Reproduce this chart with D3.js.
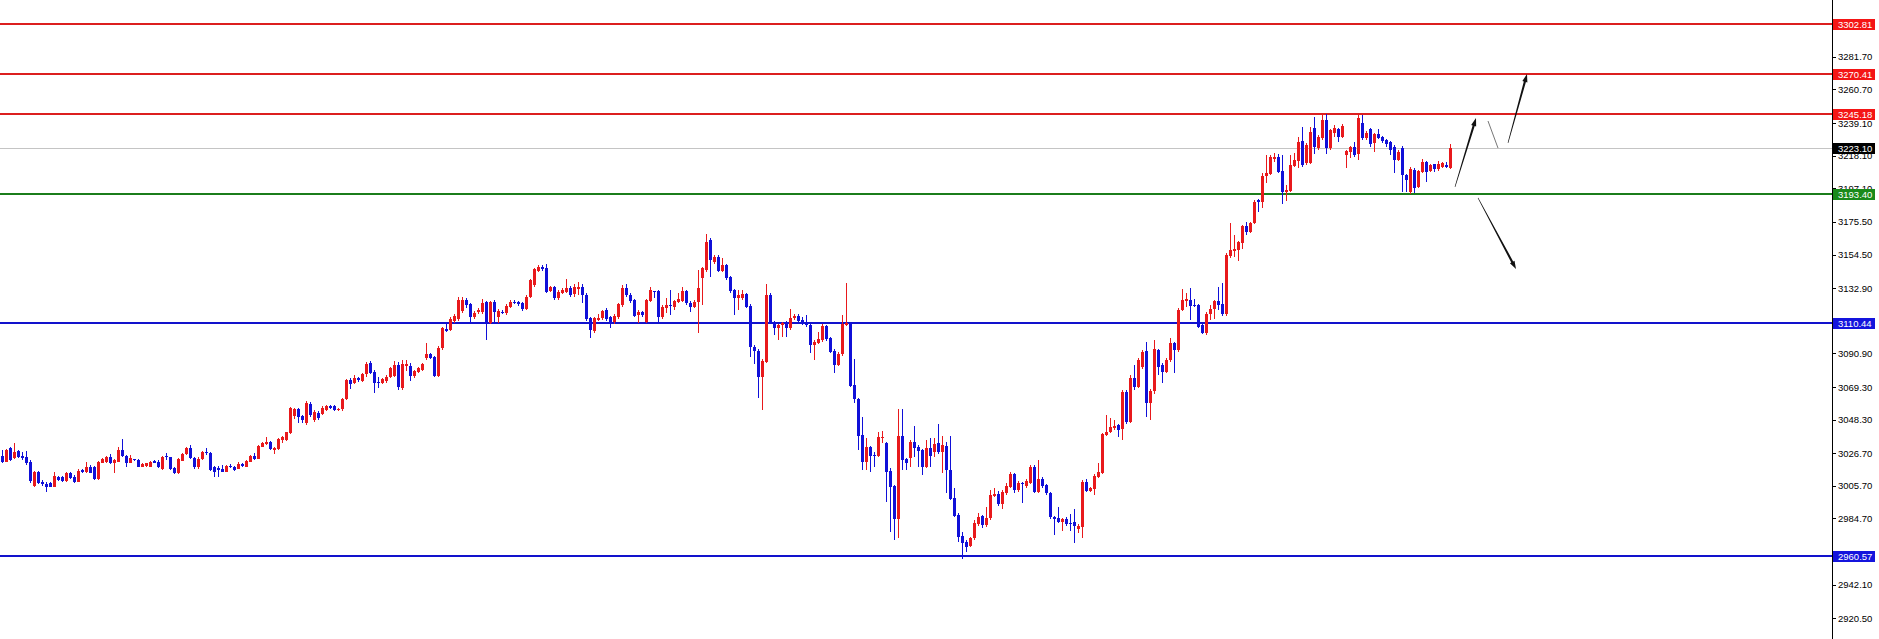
<!DOCTYPE html>
<html><head><meta charset="utf-8">
<script src="https://cdn.jsdelivr.net/npm/d3@7"></script>
<style>html,body{margin:0;padding:0;background:#fff;overflow:hidden}</style>
</head><body><svg id="c" width="1879" height="639"></svg>
<script>
const opens = [
3024.9,3021.3,3029.8,3023.4,3028.1,3024.9,3024.5,3021.3,3005.6,3014.8,
3008.4,3006.7,3007.3,3005.2,3011.6,3011.6,3008.8,3013.8,3011.6,3008.4,
3015.9,3014.6,3018.1,3017.6,3010.1,3020.6,3020.8,3024.0,3020.2,3021.3,
3028.8,3024.9,3020.6,3022.8,3022.3,3018.1,3018.5,3018.1,3021.5,3021.1,
3016.3,3024.9,3024.0,3017.2,3014.2,3021.9,3026.2,3029.8,3023.4,3017.6,
3023.0,3027.5,3027.1,3017.6,3017.0,3016.3,3014.8,3018.5,3017.6,3016.8,
3019.8,3018.1,3021.3,3024.9,3023.2,3030.9,3032.6,3034.1,3028.8,3029.4,
3035.2,3035.2,3039.5,3050.6,3054.9,3050.8,3046.0,3058.3,3048.1,3052.8,
3052.0,3054.5,3057.1,3057.1,3054.5,3054.9,3061.4,3073.8,3072.1,3074.9,
3073.4,3077.4,3084.5,3079.1,3072.7,3072.1,3073.1,3075.9,3076.4,3083.4,
3068.9,3082.8,3083.0,3076.4,3079.1,3080.2,3087.7,3090.3,3088.4,3076.4,
3094.2,3106.6,3105.9,3111.7,3112.8,3118.4,3125.2,3122.5,3114.1,3117.3,
3117.3,3123.7,3110.7,3123.7,3114.5,3117.7,3116.7,3121.0,3124.2,3123.7,
3123.1,3119.7,3127.4,3134.9,3144.1,3146.3,3145.6,3131.2,3133.8,3126.3,
3130.0,3130.6,3132.7,3128.9,3132.1,3133.8,3128.5,3113.4,3105.5,3112.4,
3113.5,3118.8,3114.1,3111.3,3114.1,3122.1,3132.8,3128.5,3125.3,3115.6,
3117.8,3111.3,3124.8,3131.0,3131.0,3114.1,3119.9,3122.0,3121.0,3124.2,
3124.8,3131.3,3123.5,3121.0,3123.8,3139.2,3144.6,3163.9,3149.9,3153.2,
3144.1,3147.8,3140.3,3131.7,3126.3,3126.3,3129.1,3121.6,3095.2,3092.7,
3075.9,3085.6,3128.5,3110.7,3107.0,3109.0,3110.7,3107.0,3113.5,3115.0,
3112.4,3110.3,3109.2,3096.3,3097.8,3099.5,3108.5,3100.6,3092.7,3083.5,
3090.5,3109.2,3110.3,3070.6,3061.6,3038.4,3021.3,3030.9,3025.6,3024.9,
3036.3,3033.1,3015.3,3005.8,2984.2,3037.8,3022.8,3023.4,3034.1,3030.9,
3028.8,3018.1,3030.3,3027.7,3033.1,3027.7,3031.6,3015.9,2997.7,2987.0,
2973.5,2969.8,2967.0,2972.0,2981.2,2986.3,2980.5,2984.8,2999.2,3000.5,
2994.1,3000.9,3005.2,3013.3,3003.1,3007.3,3005.6,3007.8,3017.6,3002.0,
3009.9,3006.3,3001.3,2985.9,2984.8,2982.7,2984.2,2982.0,2982.7,2977.8,
2979.5,3008.4,3002.6,3003.5,3011.6,3014.2,3038.4,3040.6,3042.7,3044.9,
3042.1,3066.3,3047.0,3074.9,3069.5,3082.4,3092.5,3058.8,3066.4,3093.1,
3083.5,3079.2,3086.7,3097.4,3093.1,3118.9,3124.9,3125.3,3122.1,3122.1,
3109.2,3103.9,3116.3,3119.3,3124.6,3122.7,3116.3,3153.6,3157.0,3157.4,
3162.2,3172.9,3169.2,3175.0,3189.6,3188.5,3205.0,3206.3,3215.7,3217.5,
3208.4,3194.9,3195.6,3211.5,3214.9,3227.7,3213.2,3213.2,3236.0,3222.8,
3229.3,3241.1,3222.8,3232.5,3235.3,3230.3,3218.5,3220.7,3223.9,3219.0,
3238.9,3229.3,3235.3,3226.0,3231.8,3230.3,3228.2,3226.7,3223.9,3215.3,
3223.2,3205.7,3194.5,3208.9,3198.2,3207.8,3213.8,3208.2,3212.5,3209.5,
3211.0,3212.1,3210.0];
const highs = [
3028.8,3029.4,3030.9,3033.1,3028.8,3027.7,3028.1,3022.3,3015.5,3015.5,
3009.5,3008.4,3008.0,3014.8,3012.1,3012.3,3014.8,3014.6,3012.7,3016.3,
3016.3,3021.1,3018.9,3018.5,3021.9,3023.4,3024.9,3026.2,3022.8,3030.9,
3035.6,3025.6,3025.3,3023.2,3023.0,3020.2,3020.6,3021.5,3022.3,3022.3,
3024.9,3027.1,3024.5,3017.6,3023.4,3026.6,3030.9,3032.0,3024.0,3024.5,
3028.3,3029.8,3027.7,3018.5,3018.5,3019.1,3018.9,3019.8,3018.5,3021.3,
3020.6,3022.3,3025.6,3026.6,3032.0,3034.1,3036.9,3034.6,3030.9,3036.5,
3037.8,3040.6,3056.2,3055.6,3055.6,3051.5,3060.5,3059.5,3054.5,3054.0,
3057.0,3058.0,3058.0,3057.8,3056.0,3062.5,3074.5,3074.8,3077.0,3076.0,
3078.5,3085.5,3086.0,3080.0,3075.9,3075.0,3077.0,3082.0,3086.0,3085.5,
3086.5,3086.6,3084.5,3080.5,3082.0,3085.0,3097.4,3091.0,3089.0,3095.5,
3108.0,3111.3,3114.0,3116.0,3127.5,3127.0,3126.5,3123.5,3118.5,3120.0,
3126.0,3124.5,3124.5,3125.0,3119.5,3119.0,3123.0,3125.0,3125.0,3124.5,
3124.0,3128.5,3139.0,3146.0,3147.5,3147.5,3148.4,3134.5,3134.5,3131.5,
3133.0,3138.5,3134.0,3135.6,3137.0,3135.5,3129.5,3114.5,3114.5,3116.0,
3119.0,3120.0,3115.0,3116.0,3123.5,3134.9,3135.5,3129.5,3126.0,3118.8,
3118.5,3126.0,3133.4,3131.3,3131.5,3122.0,3126.3,3131.7,3125.5,3129.6,
3133.8,3132.0,3124.5,3125.0,3144.6,3146.5,3167.7,3165.0,3154.5,3154.0,
3152.0,3148.5,3141.0,3132.5,3131.7,3131.7,3130.0,3122.5,3096.0,3093.5,
3087.0,3135.6,3129.5,3111.5,3110.0,3111.0,3111.5,3119.5,3116.3,3116.0,
3114.6,3115.6,3110.0,3099.5,3104.9,3109.5,3109.2,3101.5,3093.5,3091.5,
3115.6,3136.4,3111.0,3087.1,3062.0,3050.2,3036.3,3031.5,3027.7,3040.6,
3041.0,3034.0,3017.0,3006.5,3055.0,3055.0,3023.5,3035.2,3044.2,3032.0,
3029.5,3035.2,3036.3,3036.3,3045.5,3037.8,3034.1,3037.8,3004.1,2988.0,
2976.3,2971.0,2973.0,2983.8,2988.0,2987.0,2991.9,3003.1,3004.1,3002.6,
3003.0,3007.8,3014.8,3014.0,3009.1,3008.0,3009.9,3019.1,3019.1,3022.3,
3011.6,3007.0,3002.0,2986.5,2992.3,2985.0,2985.9,2987.6,2990.6,2981.0,
3009.5,3009.9,3005.0,3013.0,3020.2,3040.0,3051.3,3049.2,3048.1,3045.5,
3067.5,3067.4,3077.0,3083.5,3087.8,3093.0,3098.5,3068.0,3099.6,3094.0,
3084.5,3088.0,3100.6,3098.5,3120.0,3132.1,3129.6,3132.8,3125.7,3123.0,
3110.0,3117.5,3122.1,3125.5,3133.9,3136.0,3155.5,3175.0,3167.1,3163.5,
3173.5,3175.7,3175.5,3189.5,3190.5,3207.0,3218.5,3218.5,3219.6,3219.2,
3218.5,3199.2,3218.5,3219.6,3229.9,3236.7,3226.0,3236.7,3243.0,3231.5,
3244.7,3244.7,3235.5,3237.8,3236.0,3238.2,3222.0,3224.3,3226.7,3244.3,
3244.3,3234.0,3236.0,3232.5,3235.3,3231.0,3229.0,3227.5,3225.0,3221.5,
3224.3,3206.5,3210.5,3210.0,3209.0,3216.0,3214.5,3213.0,3213.0,3214.7,
3214.2,3214.2,3225.5];
const lows = [
3020.6,3020.8,3021.7,3023.0,3023.6,3022.3,3019.1,3007.8,3004.8,3006.9,
3005.6,3002.0,3004.8,3004.8,3008.8,3008.4,3008.4,3009.9,3007.3,3008.0,
3014.2,3013.8,3013.8,3009.7,3009.7,3020.2,3020.2,3019.8,3013.8,3020.8,
3024.5,3017.6,3020.2,3021.7,3017.6,3017.6,3018.1,3017.6,3020.2,3017.2,
3015.9,3022.3,3015.9,3013.3,3013.1,3021.5,3025.8,3023.0,3016.8,3016.8,
3022.3,3025.6,3015.5,3011.2,3011.6,3014.4,3014.4,3017.0,3015.3,3016.3,
3018.1,3017.6,3020.8,3022.3,3022.8,3030.5,3032.2,3028.8,3026.2,3029.0,
3033.1,3034.8,3039.1,3048.5,3046.4,3046.0,3045.0,3050.0,3047.0,3048.0,
3051.0,3054.0,3055.0,3053.8,3053.8,3054.0,3060.8,3068.0,3071.0,3072.5,
3072.5,3076.0,3077.5,3065.6,3068.4,3071.0,3072.0,3075.0,3075.5,3067.5,
3067.5,3079.8,3073.0,3075.0,3078.0,3079.5,3086.8,3087.0,3075.5,3075.5,
3093.0,3104.9,3105.0,3110.5,3111.5,3117.0,3120.0,3110.5,3113.0,3116.5,
3116.5,3099.5,3109.5,3110.0,3110.5,3116.0,3115.5,3120.0,3122.5,3121.5,
3118.0,3119.0,3126.5,3133.5,3143.0,3144.0,3129.5,3130.5,3125.0,3125.5,
3129.0,3129.5,3127.5,3127.0,3128.5,3123.1,3111.5,3100.6,3104.0,3111.5,
3112.5,3111.5,3107.0,3110.0,3113.0,3121.0,3127.5,3123.5,3114.0,3110.3,
3114.5,3110.3,3124.0,3126.3,3110.3,3113.0,3116.7,3115.6,3118.8,3123.5,
3124.0,3122.0,3117.8,3120.0,3104.3,3122.0,3143.5,3140.3,3148.5,3143.0,
3143.0,3138.0,3130.0,3115.6,3118.8,3125.5,3120.0,3088.8,3084.1,3062.0,
3054.5,3084.5,3109.5,3102.7,3099.5,3101.7,3101.3,3106.0,3112.5,3111.0,
3109.0,3108.1,3091.0,3086.7,3097.0,3098.5,3099.0,3091.0,3078.1,3082.5,
3089.5,3108.5,3069.0,3059.0,3028.8,3015.9,3015.9,3014.8,3018.1,3024.0,
3033.1,2995.5,2976.3,2970.9,2972.0,3015.9,3015.9,3018.1,3024.5,3018.1,
3012.7,3017.0,3018.1,3024.5,3026.5,3014.2,3000.9,2996.6,2985.9,2969.8,
2958.5,2963.4,2966.6,2971.0,2980.0,2978.4,2979.5,2984.0,2998.5,2993.0,
2990.6,3000.0,3004.0,3001.3,3002.0,2994.5,3004.5,3007.0,3001.0,3001.0,
3004.5,3000.0,2984.2,2974.1,2981.5,2976.9,2980.0,2976.9,2969.2,2975.2,
2972.0,3001.5,3001.5,3000.0,3011.0,3013.0,3037.5,3039.5,3041.5,3037.4,
3035.2,3045.5,3046.0,3067.4,3068.5,3081.0,3050.2,3048.1,3065.0,3077.0,
3071.7,3078.0,3085.5,3078.1,3092.0,3118.0,3121.0,3112.4,3120.5,3107.0,
3103.4,3102.5,3112.4,3112.8,3118.9,3115.0,3115.0,3152.5,3153.2,3150.6,
3157.9,3167.1,3168.2,3174.0,3182.1,3184.2,3200.3,3205.5,3214.2,3207.0,
3187.0,3189.1,3194.5,3211.0,3210.0,3211.0,3212.1,3212.7,3219.0,3221.5,
3228.2,3219.0,3222.0,3230.3,3226.7,3229.5,3210.0,3216.4,3217.5,3215.3,
3228.0,3228.0,3224.0,3220.7,3228.6,3226.5,3224.0,3218.5,3206.7,3214.5,
3195.0,3194.5,3193.5,3194.0,3197.5,3207.0,3201.4,3207.5,3207.8,3208.5,
3210.0,3210.0,3209.5];
const closes = [
3021.1,3028.8,3022.3,3027.7,3024.0,3023.4,3020.6,3009.1,3014.8,3007.8,
3006.9,3005.2,3005.2,3012.1,3009.5,3009.1,3014.2,3010.6,3008.4,3015.5,
3014.8,3018.1,3014.2,3010.1,3021.3,3023.0,3024.0,3020.2,3022.3,3028.8,
3024.9,3020.6,3023.4,3022.1,3018.1,3019.8,3020.2,3021.1,3020.6,3017.6,
3024.5,3024.0,3016.8,3013.8,3023.0,3026.2,3030.3,3023.4,3017.6,3023.0,
3027.7,3026.6,3015.9,3014.8,3015.9,3014.8,3018.5,3017.6,3015.9,3019.8,
3018.5,3021.7,3024.9,3022.8,3031.6,3033.5,3034.1,3029.4,3030.3,3035.9,
3036.9,3040.1,3055.6,3054.9,3050.2,3048.1,3059.2,3051.3,3053.4,3049.1,
3056.0,3057.1,3055.6,3054.5,3055.1,3061.6,3073.8,3071.2,3075.3,3073.8,
3077.6,3084.1,3078.5,3072.1,3072.1,3074.2,3075.9,3081.3,3083.4,3069.1,
3084.1,3084.1,3076.4,3079.8,3081.3,3083.9,3090.3,3087.7,3076.4,3094.6,
3107.0,3105.5,3112.8,3115.2,3125.2,3125.2,3122.0,3114.1,3117.1,3118.8,
3123.1,3110.7,3123.7,3117.5,3118.4,3117.1,3121.4,3124.2,3123.1,3122.7,
3119.2,3127.4,3138.1,3145.0,3146.3,3145.0,3130.6,3133.4,3126.3,3130.6,
3131.7,3132.7,3128.5,3133.4,3133.8,3128.5,3112.8,3105.9,3113.4,3113.4,
3118.2,3112.8,3110.7,3115.0,3122.5,3132.8,3128.5,3124.8,3115.0,3117.8,
3115.6,3125.3,3131.7,3130.4,3114.1,3121.0,3122.0,3121.6,3124.8,3125.7,
3131.3,3123.1,3121.0,3124.2,3132.8,3145.6,3162.8,3151.0,3153.2,3144.1,
3147.8,3139.2,3131.3,3126.3,3128.5,3129.1,3121.0,3094.8,3092.7,3075.9,
3086.0,3128.5,3110.7,3107.0,3109.2,3110.3,3107.0,3113.5,3115.0,3112.0,
3110.3,3109.2,3096.3,3098.5,3100.0,3108.5,3100.0,3092.0,3083.5,3090.5,
3109.8,3110.3,3069.9,3061.4,3037.8,3021.3,3030.9,3024.9,3024.9,3036.9,
3037.4,3014.8,3005.2,2984.2,3037.8,3022.4,3020.6,3034.1,3029.9,3028.4,
3018.1,3029.9,3024.9,3032.6,3027.7,3032.0,3015.9,2997.1,2986.3,2973.0,
2969.2,2966.6,2972.0,2981.6,2985.9,2980.5,2984.8,2999.8,3000.5,2994.1,
3002.0,3005.6,3013.3,3003.1,3007.8,3006.9,3009.1,3017.6,3002.0,3009.9,
3005.6,3000.9,2985.5,2984.2,2982.7,2984.2,2981.2,2981.2,2979.9,2979.9,
3008.4,3002.6,3004.1,3012.1,3014.8,3039.1,3040.6,3043.4,3044.2,3041.6,
3066.3,3047.0,3074.9,3069.5,3086.7,3092.0,3058.8,3067.0,3093.6,3082.4,
3079.2,3086.7,3097.4,3093.1,3118.9,3125.3,3125.7,3121.4,3121.4,3108.1,
3104.3,3116.3,3119.3,3124.6,3122.1,3116.3,3154.2,3157.4,3157.9,3162.8,
3172.9,3169.2,3175.0,3188.5,3188.5,3205.0,3206.7,3217.0,3217.0,3207.8,
3194.9,3196.0,3212.1,3215.3,3227.1,3212.1,3225.0,3233.5,3224.0,3230.3,
3241.1,3222.8,3234.6,3235.7,3230.3,3237.4,3221.1,3223.9,3218.5,3242.1,
3229.3,3232.5,3225.4,3231.8,3229.3,3227.5,3225.4,3221.8,3215.3,3220.7,
3205.7,3202.5,3209.5,3197.1,3208.2,3214.2,3207.8,3212.1,3209.5,3212.5,
3213.2,3211.0,3223.1];

const tickValues = [3281.70,3260.70,3239.10,3218.10,3197.10,3175.50,3154.50,3132.90,
  3090.90,3069.30,3048.30,3026.70,3005.70,2984.70,2942.10,2920.50];
const levelValues = [3302.81,3270.41,3245.18,3223.10,3193.40,3110.44,2960.57];
const levelKinds  = ["red","red","red","bid","green","blue","blue"];

// drawn annotation lines: [bar index, price] pairs
const annoStartIdx   = [363.25, 371.5, 376.5, 369.0];
const annoStartPrice = [3198.0, 3240.4, 3226.3, 3190.9];
const annoEndIdx     = [368.5, 374.0, 381.25, 378.5];
const annoEndPrice   = [3242.3, 3223.0, 3270.6, 3145.2];
const annoHasHead    = [true, false, true, true];

const W = 1879, H = 639, AXIS_X = 1832;
const UP = "#e8191c", DOWN = "#1010d8";
const lineColor = {red:"#dc1f1f", bid:"#c4c4c4", green:"#1b7d1b", blue:"#1212cc"};
const boxColor  = {red:"#f41515", bid:"#000000", green:"#1a8a1a", blue:"#1414dd"};

const svg = d3.select("#c");
svg.append("rect").attr("width",W).attr("height",H).attr("fill","#fff");

const N = closes.length;
const x = d3.scaleLinear().domain([0, N-1]).range([2, 2 + 4*(N-1)]);
const y = d3.scaleLinear().domain([3302.81, 2960.57]).range([24, 556]);

// level lines
const lv = svg.append("g").attr("shape-rendering","crispEdges");
levelValues.forEach((v,k)=>{
  const kind = levelKinds[k];
  const yy = Math.round(y(v));
  const th = kind==="bid" ? 1 : 2;
  lv.append("rect").attr("x",0).attr("width",AXIS_X).attr("y", kind==="bid"? yy : yy-1)
    .attr("height",th).attr("fill",lineColor[kind]);
});

// candles
const cg = svg.append("g").attr("shape-rendering","crispEdges");
d3.range(N).forEach(i=>{
  const o=opens[i], h=highs[i], l=lows[i], c=closes[i];
  const col = c >= o ? UP : DOWN;
  const cx = Math.round(x(i));
  const yh = Math.round(y(h)), yl = Math.round(y(l));
  cg.append("rect").attr("x",cx).attr("width",1).attr("y",yh).attr("height",Math.max(1,yl-yh)).attr("fill",col);
  const yt = Math.round(y(Math.max(o,c))), yb = Math.round(y(Math.min(o,c)));
  cg.append("rect").attr("x",cx-1).attr("width",3).attr("y",yt).attr("height",Math.max(1,yb-yt)).attr("fill",col);
});

// annotation arrows
const ag = svg.append("g");
annoStartIdx.forEach((_,k)=>{
  const x0=x(annoStartIdx[k]), y0=y(annoStartPrice[k]);
  const x1=x(annoEndIdx[k]),   y1=y(annoEndPrice[k]);
  const dx=x1-x0, dy=y1-y0, len=Math.hypot(dx,dy);
  const ux=dx/len, uy=dy/len, nx=-uy, ny=ux;
  if(!annoHasHead[k]){
    ag.append("line").attr("x1",x0).attr("y1",y0).attr("x2",x1).attr("y2",y1)
      .attr("stroke","#777").attr("stroke-width",1);
    return;
  }
  const hl=8, hw=2.6, w0=0.3, w1=1.1;
  const bx=x1-ux*hl, by=y1-uy*hl;
  const pts=[[x0+nx*w0,y0+ny*w0],[bx+nx*w1,by+ny*w1],[bx+nx*hw,by+ny*hw],[x1,y1],
             [bx-nx*hw,by-ny*hw],[bx-nx*w1,by-ny*w1],[x0-nx*w0,y0-ny*w0]];
  ag.append("path").attr("d","M"+pts.map(p=>p.join(",")).join("L")+"Z").attr("fill","#111");
});

// right price axis
svg.append("rect").attr("x",AXIS_X).attr("y",0).attr("width",W-AXIS_X).attr("height",H).attr("fill","#fff");
const axis = d3.axisRight(y).tickValues(tickValues).tickSize(4).tickPadding(2).tickFormat(d3.format(".2f"));
const axG = svg.append("g").attr("transform",`translate(${AXIS_X},0)`).call(axis);
axG.select(".domain").remove();
axG.selectAll(".tick line").attr("stroke","#000").attr("shape-rendering","crispEdges");
axG.selectAll(".tick text").attr("fill","#000").style("font-family","'Liberation Sans', Arial, sans-serif").style("font-size","9.5px");
svg.append("rect").attr("x",AXIS_X).attr("y",0).attr("width",1).attr("height",H).attr("fill","#000");

// price labels
const lb = svg.append("g");
levelValues.forEach((v,k)=>{
  const yy = Math.round(y(v));
  lb.append("rect").attr("x",AXIS_X+1).attr("y",yy-5).attr("width",42).attr("height",11)
    .attr("fill",boxColor[levelKinds[k]]).attr("shape-rendering","crispEdges");
  lb.append("text").attr("x",AXIS_X+6).attr("y",yy+0.5).attr("dy","0.35em")
    .attr("fill","#fff").style("font-family","'Liberation Sans', Arial, sans-serif").style("font-size","9.5px")
    .text(d3.format(".2f")(v));
});
</script></body></html>
